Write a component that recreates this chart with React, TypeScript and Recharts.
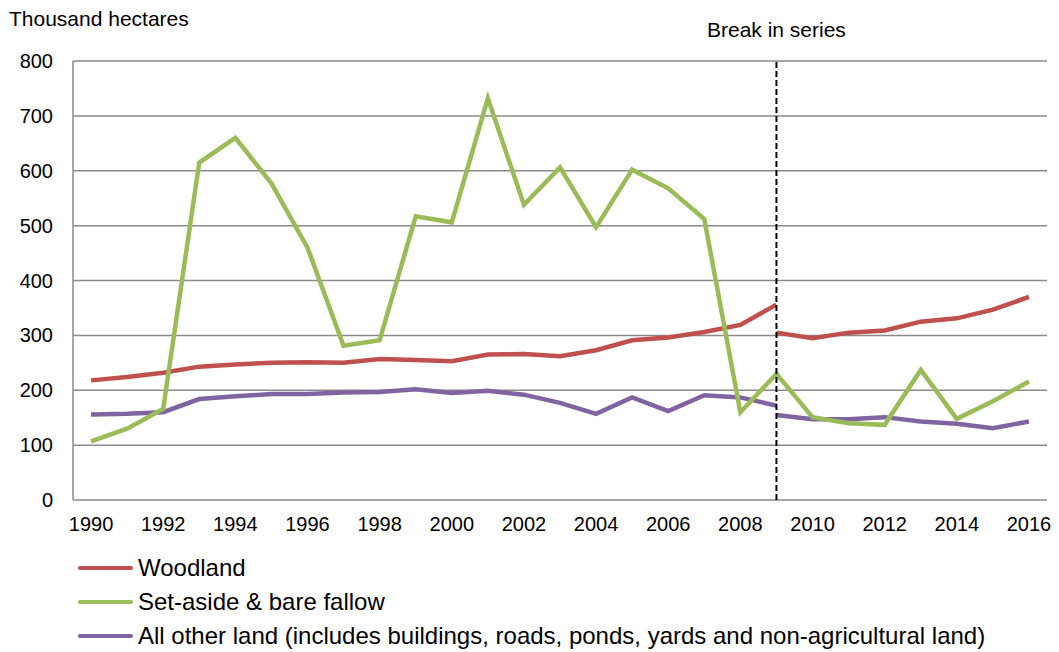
import React from "react";
import {
  LineChart,
  Line,
  XAxis,
  YAxis,
  CartesianGrid,
  ReferenceLine,
} from "recharts";

const years = [
  1990, 1991, 1992, 1993, 1994, 1995, 1996, 1997, 1998, 1999, 2000, 2001, 2002,
  2003, 2004, 2005, 2006, 2007, 2008, 2009, 2010, 2011, 2012, 2013, 2014, 2015,
  2016,
];

const BREAK_YEAR = 2009;

// 1990-2009 (old method) and 2009-2016 (new method)
const woodlandBefore = [
  218, 224, 232, 243, 247, 250, 251, 250, 257, 255, 253, 265, 266, 262, 273,
  291, 296, 306, 319, 356,
];
const woodlandAfter = [305, 295, 305, 309, 325, 331, 347, 370];

const setAside = [
  107, 130, 166, 615, 660, 577, 460, 281, 291, 517, 506, 732, 538, 606, 497,
  602, 568, 512, 160, 230, 151, 140, 137, 237, 148, 180, 216,
];

const otherBefore = [
  156, 157, 160, 184, 189, 193, 193, 196, 197, 202, 195, 199, 192, 177, 157,
  187, 162, 191, 187, 172,
];
const otherAfter = [155, 147, 147, 151, 143, 139, 131, 143];

const yTicks = [0, 100, 200, 300, 400, 500, 600, 700, 800];
const labelYears = years.filter((y) => y % 2 === 0);
const boundaries = [...years.map((y) => y - 0.5), years[years.length - 1] + 0.5];

const COLORS = {
  woodland: "#C0504D",
  setAside: "#9BBB59",
  other: "#8064A2",
};

const legendItems = [
  { label: "Woodland", color: COLORS.woodland },
  { label: "Set-aside & bare fallow", color: COLORS.setAside },
  {
    label:
      "All other land (includes buildings, roads, ponds, yards and non-agricultural land)",
    color: COLORS.other,
  },
];

const data = years.map((year, i) => ({
  year,
  woodlandA: year <= BREAK_YEAR ? woodlandBefore[i] : undefined,
  woodlandB: year >= BREAK_YEAR ? woodlandAfter[year - BREAK_YEAR] : undefined,
  setAside: setAside[i],
  otherA: year <= BREAK_YEAR ? otherBefore[i] : undefined,
  otherB: year >= BREAK_YEAR ? otherAfter[year - BREAK_YEAR] : undefined,
}));

const FONT = '"Liberation Sans", Arial, sans-serif';
const GRID = "#8a8a8a";

export default function App() {
  return (
    <div
      style={{
        position: "absolute",
        left: 0,
        top: 0,
        width: 1059,
        height: 652,
        background: "#fff",
        fontFamily: FONT,
      }}
    >
      <div
        style={{
          position: "absolute",
          left: 9,
          top: 7,
          fontSize: 21,
          color: "#000",
        }}
      >
        Thousand hectares
      </div>

      <LineChart
        width={1059}
        height={652}
        data={data}
        margin={{ top: 61, right: 12, bottom: 122, left: 0 }}
      >
        <CartesianGrid vertical={false} stroke={GRID} strokeWidth={1.5} />
        <XAxis
          xAxisId="marks"
          dataKey="year"
          type="number"
          domain={[boundaries[0], boundaries[boundaries.length - 1]]}
          ticks={boundaries}
          tick={false}
          tickSize={6}
          height={0}
          axisLine={{ stroke: GRID, strokeWidth: 1.5 }}
          tickLine={{ stroke: GRID, strokeWidth: 1.5 }}
        />
        <XAxis
          dataKey="year"
          type="number"
          domain={[boundaries[0], boundaries[boundaries.length - 1]]}
          ticks={labelYears}
          interval={0}
          axisLine={false}
          tickLine={false}
          tickSize={0}
          tickMargin={17}
          height={30}
          tick={{ fontSize: 20, fill: "#000", fontFamily: FONT }}
        />
        <YAxis
          type="number"
          domain={[0, 800]}
          ticks={yTicks}
          interval={0}
          width={73}
          axisLine={{ stroke: GRID, strokeWidth: 1.5 }}
          tickLine={false}
          tickMargin={14}
          tick={{ fontSize: 20, fill: "#000", fontFamily: FONT }}
        />

        <Line
          dataKey="woodlandA"
          stroke={COLORS.woodland}
          strokeWidth={4.5}
          dot={false}
          activeDot={false}
          isAnimationActive={false}
        />
        <Line
          dataKey="woodlandB"
          stroke={COLORS.woodland}
          strokeWidth={4.5}
          dot={false}
          activeDot={false}
          isAnimationActive={false}
        />
        <Line
          dataKey="otherA"
          stroke={COLORS.other}
          strokeWidth={4.5}
          dot={false}
          activeDot={false}
          isAnimationActive={false}
        />
        <Line
          dataKey="otherB"
          stroke={COLORS.other}
          strokeWidth={4.5}
          dot={false}
          activeDot={false}
          isAnimationActive={false}
        />
        <Line
          dataKey="setAside"
          stroke={COLORS.setAside}
          strokeWidth={4.5}
          dot={false}
          activeDot={false}
          isAnimationActive={false}
        />

        <ReferenceLine
          x={BREAK_YEAR}
          stroke="#000"
          strokeWidth={2}
          strokeDasharray="6 3"
          label={{
            value: "Break in series",
            position: "top",
            offset: 24,
            fill: "#000",
            fontSize: 21,
            fontFamily: FONT,
          }}
        />
      </LineChart>

      {/* legend, one row per series */}
      <div style={{ position: "absolute", left: 78, top: 551 }}>
        {legendItems.map((item) => (
          <div
            key={item.label}
            style={{
              display: "flex",
              alignItems: "center",
              height: 34,
              fontSize: 24,
              color: "#000",
              whiteSpace: "nowrap",
            }}
          >
            <span
              style={{
                display: "inline-block",
                width: 55,
                height: 4.5,
                borderRadius: 3,
                background: item.color,
                marginRight: 5,
              }}
            />
            {item.label}
          </div>
        ))}
      </div>
    </div>
  );
}
